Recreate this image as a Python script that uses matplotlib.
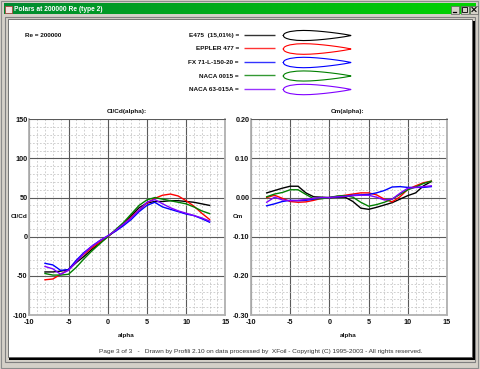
import matplotlib
matplotlib.use("Agg")
import matplotlib.pyplot as plt
import numpy as np
from matplotlib.patches import Rectangle

W, H = 480, 369
plt.rcParams['font.family'] = ['Liberation Sans', 'DejaVu Sans']

title = "Polars at 200000 Re (type 2)"
re_label = "Re = 200000"
footer = "Page 3 of 3   -   Drawn by Profili 2.10 on data processed by  XFoil - Copyright (C) 1995-2003 - All rights reserved."

names = ["E475  (15,01%) =", "EPPLER 477 =", "FX 71-L-150-20 =", "NACA 0015 =", "NACA 63-015A ="]
colors = ["#000000", "#ff0000", "#0000ff", "#008000", "#8000ff"]

alpha = [-8, -7, -6, -5, -4, -3, -2, -1, 0, 1, 2, 3, 4, 5, 6, 7, 8, 9, 10, 11, 12, 13]

clcd_e475 = [-45, -45, -44, -42, -33, -25, -16, -8, 0, 8, 17, 27, 37, 43, 45, 45, 46, 46, 45, 44, 42, 40]
clcd_e477 = [-55, -54, -48, -42, -31, -22, -14, -7, 0, 8, 16, 25, 34, 43, 49, 53, 54.5, 52, 46, 39, 30, 22]
clcd_fx71 = [-34, -36, -43, -42, -30, -20, -12, -5, 1, 7, 14, 22, 32, 40, 44, 38, 35, 32, 29, 27, 23, 18.5]
clcd_n15 = [-47, -49, -49, -48, -39, -28, -18, -9, 0, 9, 18, 29, 40, 47, 50, 48, 46, 44, 42, 38, 33, 29.5]
clcd_n63 = [-38, -41, -48, -43, -32, -21, -12, -5, 1, 8, 16, 24, 34, 44, 47.5, 42, 37, 33, 30, 27, 24, 20]
clcd = [clcd_e475, clcd_e477, clcd_fx71, clcd_n15, clcd_n63]

cm_e475 = [.012, .018, .024, .029, .029, .012, .002, .001, 0, .001, .001, -.01, -.027, -.03, -.025, -.019, -.013, -.004, .005, .012, .03, .041]
cm_e477 = [0, .006, -.002, -.01, -.012, -.011, -.007, -.002, 0, .003, .006, .009, .012, .012, .007, -.004, -.011, .002, .021, .03, .038, .042]
cm_fx71 = [-.021, -.016, -.01, -.007, -.008, -.007, -.004, -.001, 0, .002, .004, .006, .007, .008, .012, .018, .027, .028, .026, .026, .026, .028]
cm_n15 = [.002, .009, .013, .02, .02, .008, -.003, -.003, 0, .004, .005, .001, -.012, -.022, -.018, -.012, -.004, .008, .02, .027, .036, .042]
cm_n63 = [-.012, .001, -.006, -.008, -.007, -.005, -.002, 0, 0, .002, .003, .005, .006, .006, .001, -.006, -.004, .011, .024, .026, .028, .03]
cm = [cm_e475, cm_e477, cm_fx71, cm_n15, cm_n63]

# airfoil outline: chord stations and half-thickness
foil_x = [0, .0125, .025, .05, .1, .2, .3, .4, .5, .6, .7, .8, .9, .95, 1]
foil_t = [0, .0237, .0327, .0443, .0585, .0716, .075, .0726, .0661, .0572, .0463, .0338, .0193, .0105, .0016]
foil_scale = [1.0, 1.05, 1.03, 1.0, 1.03]

fig = plt.figure(figsize=(W / 100, H / 100), dpi=100, facecolor="#d4d0c8")


def pix_axes(x0, y0, x1, y1, **kw):
    return fig.add_axes([x0 / W, 1 - y1 / H, (x1 - x0) / W, (y1 - y0) / H], **kw)


# window chrome and page, in pixel coordinates
bg = pix_axes(0, 0, W, H)
bg.set_xlim(0, W)
bg.set_ylim(H, 0)
bg.axis("off")
bg.add_patch(Rectangle((1, 1), 477, 367, fc="#d4d0c8", ec="#8c8c8c", lw=0.8))
bg.imshow(np.linspace(0, 1, 256)[None, :], extent=(4, 476, 14.5, 4), aspect="auto", zorder=2,
          cmap=matplotlib.colors.LinearSegmentedColormap.from_list("t", ["#008a30", "#00d400"]))
bg.set_xlim(0, W)
bg.set_ylim(H, 0)
bg.add_patch(Rectangle((5, 17), 470, 345, fc="#d4d0c8", ec="#808080", lw=0.8))
bg.add_patch(Rectangle((9, 21), 465.5, 339, fc="#000000", ec="none"))
bg.add_patch(Rectangle((7.5, 19), 464.5, 338, fc="#ffffff", ec="#606060", lw=0.6))
bg.add_patch(Rectangle((5, 5.5), 6.5, 7, fc="#f4e0e0", ec="#b03030", lw=0.5, zorder=3))
for bx in (451, 461, 470.5):
    bg.add_patch(Rectangle((bx - 0.5, 5.5), 8, 8, fc="#d4d0c8", ec="#606060", lw=0.5, zorder=3))
bg.plot([452.5, 455.5], [11.5, 11.5], color="k", lw=0.9, zorder=4)
bg.add_patch(Rectangle((462, 7), 5, 5, fc="none", ec="k", lw=0.6, zorder=4))
bg.plot([472, 476], [7.5, 11.5], color="k", lw=0.8, zorder=4)
bg.plot([472, 476], [11.5, 7.5], color="k", lw=0.8, zorder=4)
bg.text(14, 9.5, title, color="white", fontsize=4.8, fontweight="bold", va="center", ha="left", zorder=5)

bold = dict(fontsize=4.6, fontweight="bold", color="#111111", va="center")
bg.text(25, 35.5, re_label, ha="left", **bold)

row_y = [35.5, 49, 62.5, 76, 89.5]
for nm, c, y, s in zip(names, colors, row_y, foil_scale):
    bg.text(239, y, nm, ha="right", **bold)
    bg.plot([244, 275], [y - 1, y - 1], color=c, lw=1.0, solid_capstyle="butt", alpha=0.8)
    fx = 283.3 + np.array(foil_x) * 67.5
    ft = np.array(foil_t) * 67.5 * s
    bg.plot(np.r_[fx, fx[::-1]], np.r_[y - ft, (y + ft)[::-1]], color=c, lw=0.8)
bg.text(260.5, 351, footer, fontsize=4.65, color="#333333", ha="center", va="center")
bg.text(126.5, 111.5, "Cl/Cd(alpha):", ha="center", **bold)
bg.text(348, 111.5, "Cm(alpha):", ha="center", **bold)
bg.text(126.5, 335.5, "alpha", ha="center", **bold)
bg.text(348, 335.5, "alpha", ha="center", **bold)
bg.text(19, 217, "Cl/Cd", ha="center", **bold)
bg.text(237.5, 217, "Cm", ha="center", **bold)


def panel(box, series, ylim, major, minor, fmt):
    ax = pix_axes(*box, facecolor="white")
    ax.set_xlim(-10, 15)
    ax.set_ylim(*ylim)
    ax.set_xticks(np.arange(-10, 16, 5))
    ax.set_yticks(major)
    ax.set_xticks(np.arange(-10, 16, 1), minor=True)
    ax.set_yticks(minor, minor=True)
    ax.set_yticklabels([fmt % v for v in major])
    ax.set_xticklabels([str(v) for v in np.arange(-10, 16, 5)])
    ax.grid(which="minor", color="#bcbcbc", lw=0.5, ls=(0, (2.5, 2.5)))
    ax.grid(which="major", color="#5a5a5a", lw=0.8)
    ax.set_axisbelow(True)
    ax.tick_params(which="both", length=0)
    ax.tick_params(axis="both", labelsize=5.2, colors="#111111")
    ax.tick_params(axis="x", pad=3.2)
    ax.tick_params(axis="y", pad=1.2)
    for t in ax.get_xticklabels() + ax.get_yticklabels():
        t.set_fontweight("bold")
    for k in ("left", "right", "bottom"):
        ax.spines[k].set_color("#b0b0b0")
        ax.spines[k].set_linewidth(1.3)
    ax.spines["top"].set_color("#5a5a5a")
    ax.spines["top"].set_linewidth(0.7)
    for v, c in zip(series, colors):
        ax.plot(alpha, v, color=c, lw=1.0)
    return ax


panel((29.3, 119.3, 225.3, 315), clcd, (-100, 150), np.arange(-100, 151, 50),
      np.arange(-100, 151, 10), "%d")
panel((251, 119.3, 447, 315), cm, (-0.30, 0.20), np.round(np.arange(-0.30, 0.21, 0.10), 2),
      np.round(np.arange(-0.30, 0.21, 0.02), 2), "%.2f")

fig.savefig("out.png", dpi=100, facecolor=fig.get_facecolor())
